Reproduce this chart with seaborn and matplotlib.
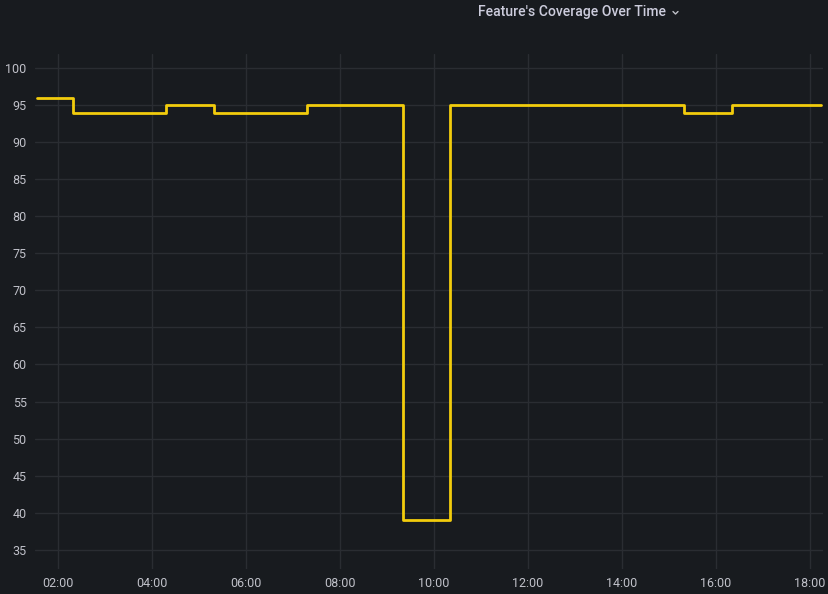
# Feature coverage over time - dark dashboard style step chart

import pandas as pd
import matplotlib
matplotlib.use('Agg')
import matplotlib.pyplot as plt
import matplotlib.dates as mdates
import seaborn as sns


# DATA ------------

change_times = ['01:33:00', '02:19:00', '04:18:00', '05:19:00', '07:18:00', '09:20:00',
                '10:20:00', '10:20:05', '10:20:10', '10:20:15', '10:20:20',
                '10:20:25', '15:19:00', '16:20:00', '18:14:00']
coverage = [96, 94, 95, 94, 95, 39,
            39, 46, 60, 75, 88,
            95, 94, 95, 95]

y_ticks = [35, 40, 45, 50, 55, 60, 65, 70, 75, 80, 85, 90, 95, 100]
title = "Feature's Coverage Over Time"


# STYLE -----------

bg = '#181b1f'
grid_col = '#2a2d32'
text_col = '#c0c1c9'
line_col = '#f2cc0c'

sns.set_theme(style='dark')
plt.rcParams['font.family'] = ['Roboto', 'DejaVu Sans']

df = pd.DataFrame({
    'time': pd.to_datetime(['2023-01-01 ' + t for t in change_times]),
    'coverage': coverage,
})

fig = plt.figure(figsize=(8.29, 5.94), dpi=100, facecolor=bg)
ax = fig.add_axes([35 / 829, 1 - 569 / 594, (823 - 35) / 829, (569 - 54) / 594])
ax.set_facecolor(bg)

sns.lineplot(data=df, x='time', y='coverage', ax=ax, color=line_col,
             linewidth=2, drawstyle='steps-post')

# Axes limits
x0 = pd.Timestamp('2023-01-01 01:30:40')
x1 = pd.Timestamp('2023-01-01 18:16:40')
ax.set_xlim(x0, x1)
ax.set_ylim(32.4, 101.9)

ax.set_yticks(y_ticks)
ax.xaxis.set_major_locator(mdates.HourLocator(byhour=range(0, 24, 2)))
ax.xaxis.set_major_formatter(mdates.DateFormatter('%H:%M'))

ax.grid(True, color=grid_col, linewidth=1)
ax.tick_params(colors=text_col, labelsize=9, length=0, pad=6)
for lbl in ax.get_xticklabels() + ax.get_yticklabels():
    lbl.set_color(text_col)
for s in ax.spines.values():
    s.set_visible(False)
ax.set_xlabel('')
ax.set_ylabel('')

# Title with little chevron
fig.text(478 / 829, 1 - 12 / 594, title, color='#ccccdc', fontsize=10.1,
         fontweight='medium', ha='left', va='center')
fig.lines.append(plt.Line2D([673 / 829, 675.5 / 829, 678 / 829],
                            [1 - 11.5 / 594, 1 - 14 / 594, 1 - 11.5 / 594],
                            transform=fig.transFigure, color=text_col, linewidth=1))

fig.savefig('out.png', dpi=100, facecolor=bg)
